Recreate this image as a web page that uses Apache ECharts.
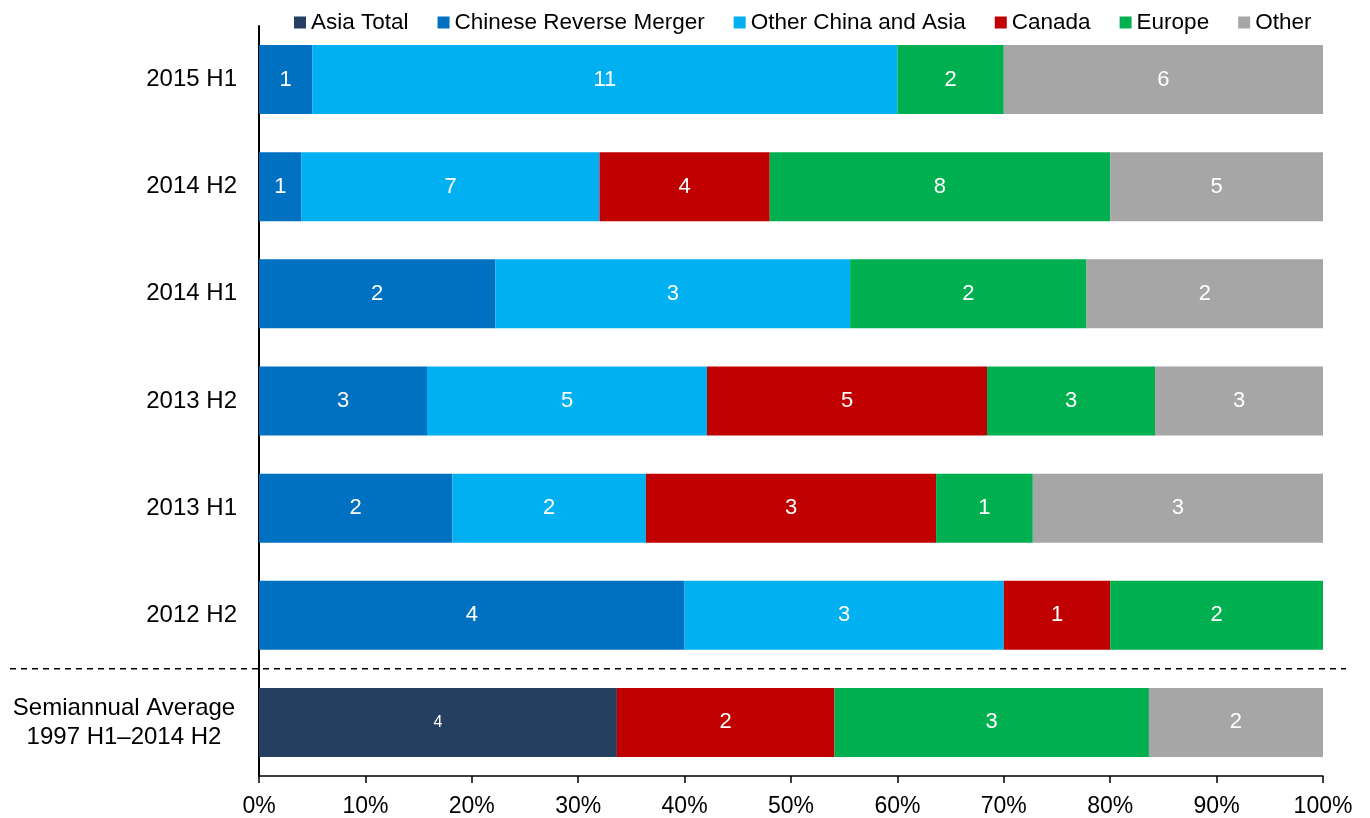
<!DOCTYPE html>
<html>
<head>
<meta charset="utf-8">
<script src="https://cdn.jsdelivr.net/npm/echarts@6/dist/echarts.min.js"></script>
<style>
html,body{margin:0;padding:0;background:#fff;}
#chart{width:1370px;height:818px;}
</style>
</head>
<body>
<div id="chart"></div>
<script>
// Categories, top to bottom
var categories = ['2015 H1', '2014 H2', '2014 H1', '2013 H2', '2013 H1', '2012 H2', 'Semiannual Average\n1997 H1\u20132014 H2'];
var seriesNames = ['Asia Total', 'Chinese Reverse Merger', 'Other China and Asia', 'Canada', 'Europe', 'Other'];
// Counts per category (same order as categories)
var asiaTotal      = [0, 0, 0, 0, 0, 0, 3.7];
var chineseRM      = [1, 1, 2, 3, 2, 4, 0];
var otherChinaAsia = [11, 7, 3, 5, 2, 3, 0];
var canada         = [0, 4, 0, 5, 3, 1, 2.25];
var europe         = [2, 8, 2, 3, 1, 2, 3.25];
var other          = [6, 5, 2, 3, 3, 0, 1.8];
var xTickLabels = ['0%', '10%', '20%', '30%', '40%', '50%', '60%', '70%', '80%', '90%', '100%'];

var colors = ['#253F60', '#0070C0', '#00B0F0', '#C00000', '#00B050', '#A6A6A6'];
var allSeries = [asiaTotal, chineseRM, otherChinaAsia, canada, europe, other];

var totals = categories.map(function (c, i) {
  return allSeries.reduce(function (s, arr) { return s + arr[i]; }, 0);
});

var FONT = '"Liberation Sans", Arial, sans-serif';

var series = allSeries.map(function (arr, si) {
  return {
    name: seriesNames[si],
    type: 'bar',
    stack: 'total',
    barWidth: 69,
    itemStyle: { color: colors[si] },
    label: {
      show: true,
      position: 'inside',
      color: '#fff',
      fontSize: 22,
      fontFamily: FONT,
      formatter: function (p) {
        var r = p.data.raw;
        return r ? String(Math.round(r)) : '';
      }
    },
    data: arr.map(function (v, i) {
      var item = { value: v / totals[i] * 100, raw: v };
      if (si === 0) item.label = { fontSize: 16 };
      return item;
    })
  };
});

var chart = echarts.init(document.getElementById('chart'));
chart.setOption({
  animation: false,
  textStyle: { fontFamily: FONT },
  legend: {
    data: seriesNames,
    top: 6,
    left: 289,
    itemWidth: 12,
    itemHeight: 12,
    itemGap: 29,
    icon: 'rect',
    textStyle: { fontSize: 22.5, color: '#000', fontFamily: FONT }
  },
  grid: { left: 259, right: 47, top: 26, bottom: 42, containLabel: false },
  xAxis: {
    type: 'value',
    min: 0,
    max: 100,
    interval: 10,
    splitLine: { show: false },
    axisLine: { show: true, lineStyle: { color: '#000', width: 1.5 } },
    axisTick: { show: true, length: 7, lineStyle: { color: '#000', width: 1.5 } },
    axisLabel: {
      color: '#000', fontSize: 23, fontFamily: FONT, margin: 19,
      formatter: function (v) { return xTickLabels[Math.round(v / 10)]; }
    }
  },
  yAxis: {
    type: 'category',
    inverse: true,
    data: categories,
    axisLine: { show: true, lineStyle: { color: '#000', width: 2 } },
    axisTick: { show: false },
    axisLabel: {
      color: '#000', fontSize: 24, fontFamily: FONT, margin: 22,
      formatter: function (v) {
        if (v.indexOf('\n') >= 0) {
          return v.split('\n').map(function (s) { return '{avg|' + s + '}'; }).join('\n');
        }
        return v;
      },
      rich: {
        avg: { width: 226, align: 'center', fontSize: 24, lineHeight: 29, color: '#000', fontFamily: FONT }
      }
    }
  },
  series: series
});

// Dashed separator between the last regular row and the average row
var y1 = chart.convertToPixel({ yAxisIndex: 0 }, categories[5]);
var y2 = chart.convertToPixel({ yAxisIndex: 0 }, categories[6]);
var ySep = (y1 + y2) / 2;
chart.setOption({
  graphic: [{
    type: 'line',
    shape: { x1: 10, y1: ySep, x2: 1346, y2: ySep },
    style: { stroke: '#000', lineWidth: 1.5, lineDash: [6, 5] },
    z: 10
  }]
});
</script>
</body>
</html>
